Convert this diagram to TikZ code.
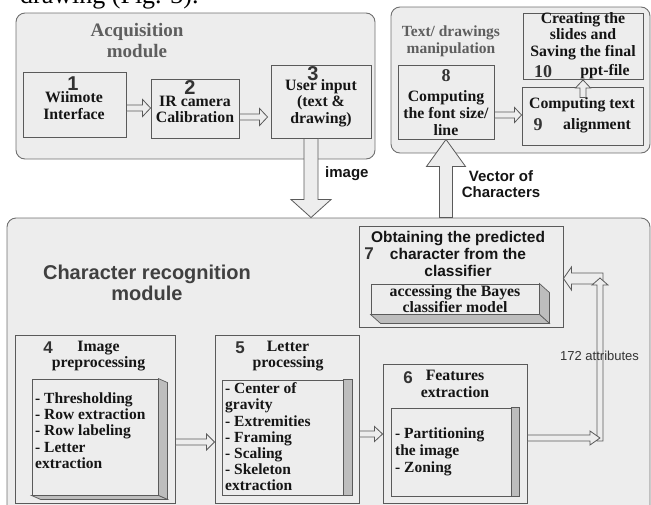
\documentclass[tikz,border=0pt]{standalone}
\usepackage{fontspec}
\setmainfont{Liberation Serif}
\setsansfont{Liberation Sans}
\usetikzlibrary{calc}
\definecolor{modfill}{HTML}{EDEDED}
\definecolor{modline}{HTML}{707070}
\definecolor{boxline}{HTML}{5A5A5A}
\definecolor{sidefill}{HTML}{BDBDBD}
\definecolor{titlegray}{HTML}{5E5E5E}
\definecolor{crgray}{HTML}{404040}
\definecolor{txt}{HTML}{151515}
\definecolor{numgray}{HTML}{333333}
\newcommand\fs[2]{\fontsize{#1}{#2}\selectfont}
% block arrows: #1 start, #2 tip, #3 shaft half width, #4 head half width, #5 head length
\newcommand\arrR[5]{\draw[barrow] let \p1=#1, \p2=#2 in (\x1,\y1+#3) -- (\x2-#5,\y1+#3) -- (\x2-#5,\y1+#4) -- (\x2,\y1) -- (\x2-#5,\y1-#4) -- (\x2-#5,\y1-#3) -- (\x1,\y1-#3) -- cycle;}
\newcommand\arrL[5]{\draw[barrow] let \p1=#1, \p2=#2 in (\x1,\y1+#3) -- (\x2+#5,\y1+#3) -- (\x2+#5,\y1+#4) -- (\x2,\y1) -- (\x2+#5,\y1-#4) -- (\x2+#5,\y1-#3) -- (\x1,\y1-#3) -- cycle;}
\newcommand\arrU[5]{\draw[barrow] let \p1=#1, \p2=#2 in (\x1+#3,\y1) -- (\x1+#3,\y2-#5) -- (\x1+#4,\y2-#5) -- (\x1,\y2) -- (\x1-#4,\y2-#5) -- (\x1-#3,\y2-#5) -- (\x1-#3,\y1) -- cycle;}
\newcommand\arrD[5]{\draw[barrow] let \p1=#1, \p2=#2 in (\x1+#3,\y1) -- (\x1+#3,\y2+#5) -- (\x1+#4,\y2+#5) -- (\x1,\y2) -- (\x1-#4,\y2+#5) -- (\x1-#3,\y2+#5) -- (\x1-#3,\y1) -- cycle;}
\tikzset{
  module/.style={draw=modline, fill=modfill, rounded corners=9pt, line width=0.9pt, inner sep=0pt},
  stepbox/.style={draw=boxline, fill=modfill, line width=0.9pt, inner sep=0pt},
  sidepanel/.style={draw=boxline, fill=sidefill, line width=0.7pt, line join=miter},
  barrow/.style={draw=boxline, fill=modfill, line width=0.8pt, line join=miter},
  modtitle/.style={font=\bfseries\fs{19}{21}, text=titlegray, inner sep=0pt, align=center},
  tdtitle/.style={font=\bfseries\fs{15.5}{17}, text=titlegray, inner sep=0pt, align=center},
  crtitle/.style={font=\sffamily\bfseries\fs{20}{21}, text=crgray, inner sep=0pt, align=center},
  stxt/.style={font=\bfseries\fs{15.8}{16.7}, text=txt, inner sep=0pt, align=center},
  ltxt/.style={font=\bfseries\fs{15.5}{16.2}, text=txt, inner sep=0pt, align=left, anchor=west},
  ssx/.style={font=\sffamily\bfseries\fs{15.5}{17}, text=txt, inner sep=0pt, align=center},
  bignum/.style={font=\sffamily\bfseries\fs{20}{20}, text=numgray, inner sep=0pt},
  snum/.style={font=\sffamily\bfseries\fs{17}{17}, text=numgray, inner sep=0pt},
  rnum/.style={font=\bfseries\fs{18}{18}, text=numgray, inner sep=0pt},
  lbl/.style={font=\sffamily\bfseries\fs{15}{15}, text=txt, inner sep=0pt, align=center},
}
\begin{document}
\begin{tikzpicture}[x=1pt,y=-1pt]
\useasboundingbox (0,0) rectangle (651,504);
% fragment of the surrounding text, cut off by the top edge
\node[anchor=base west, inner sep=0pt, font=\fs{26}{26}] (frag) at (20,3) {drawing (Fig. 3).};

% modules
\node[module, minimum width=359pt, minimum height=146pt] (acq) at (195.5,86) {};
\node[module, minimum width=259pt, minimum height=146pt] (tdm) at (520.5,80) {};
\node[module, minimum width=643pt, minimum height=312pt] (crm) at (328.5,374) {};

% acquisition boxes
\node[stepbox, minimum width=103pt, minimum height=65pt] (b1) at (74.5,104.5) {};
\node[stepbox, minimum width=88pt, minimum height=59pt] (b2) at (195,108.5) {};
\node[stepbox, minimum width=100pt, minimum height=73pt] (b3) at (321,101.5) {};
% manipulation boxes
\node[stepbox, minimum width=96pt, minimum height=74pt] (b8) at (446,102) {};
\node[stepbox, minimum width=120pt, minimum height=66pt] (b10) at (583,46) {};
\node[stepbox, minimum width=121pt, minimum height=58pt] (b9) at (582.5,116) {};
% recognition boxes
\node[stepbox, minimum width=204pt, minimum height=101pt] (b7) at (461,276.5) {};
\node[stepbox, minimum width=160pt, minimum height=168pt] (b4) at (95,419) {};
\node[stepbox, minimum width=144pt, minimum height=168pt] (b5) at (287,419) {};
\node[stepbox, minimum width=144pt, minimum height=139pt] (b6) at (455,433.5) {};

% inner 3D boxes
\node[stepbox, minimum width=168pt, minimum height=30pt] (i7) at (455,299) {};
\draw[sidepanel] (i7.north east) -- ++(10,9) -- ($(i7.south east)+(10,9)$) -- (i7.south east) -- cycle;
\draw[sidepanel] (i7.south west) -- (i7.south east) -- ($(i7.south east)+(10,9)$) -- ($(i7.south west)+(10,9)$) -- cycle;
\node[stepbox, minimum width=126pt, minimum height=116pt] (i4) at (95,437) {};
\draw[sidepanel] (i4.north east) -- ++(9,4) -- ($(i4.south east)+(9,4)$) -- (i4.south east) -- cycle;
\draw[sidepanel] (i4.south west) -- (i4.south east) -- ($(i4.south east)+(9,4)$) -- ($(i4.south west)+(9,4)$) -- cycle;
\node[stepbox, minimum width=121pt, minimum height=115pt] (i5) at (282.5,437.5) {};
\draw[sidepanel] (i5.north east) -- ++(9,0) -- ($(i5.south east)+(9,0)$) -- (i5.south east) -- cycle;
\node[stepbox, minimum width=120pt, minimum height=88pt] (i6) at (451,452) {};
\draw[sidepanel] (i6.north east) -- ++(8,0) -- ($(i6.south east)+(8,0)$) -- (i6.south east) -- cycle;

% titles
\node[modtitle] (tacq) at (137,41) {Acquisition\\module};
\node[tdtitle] (ttdm) at (451,41) {Text/ drawings\\manipulation};
\node[crtitle] (tcrm) at (147,283) {Character recognition\\module};

% acquisition texts
\node[stxt] (t1) at (74,105.5) {Wiimote\\Interface};
\node[bignum] (n1) at (73,84) {1};
\node[stxt] (t2) at (195,109.5) {IR camera\\Calibration};
\node[bignum] (n2) at (190,88) {2};
\node[stxt] (t3) at (321,103) {User input\\(text \&\\drawing)};
\node[bignum] (n3) at (313,74) {3};

% manipulation texts
\node[rnum] (n8) at (446,76) {8};
\node[stxt] (t8) at (446,113) {Computing\\the font size/\\line};
\node[stxt] (t10) at (583,36) {Creating the\\slides and\\Saving the final};
\node[rnum] (n10) at (543,72) {10};
\node[stxt] (t10b) at (605,72) {ppt-file};
\node[stxt] (t9) at (582,104.5) {Computing text};
\node[rnum] (n9) at (538,125) {9};
\node[stxt] (t9b) at (597,125.5) {alignment};

% recognition texts
\node[ssx] (t7) at (458,253.5) {Obtaining the predicted\\character from the\\classifier};
\node[snum] (n7) at (369,254) {7};
\node[stxt] (ti7) at (455,299) {accessing the Bayes\\classifier model};
\node[snum] (n4) at (48,348) {4};
\node[stxt] (t4) at (98.5,356) {Image\\preprocessing};
\node[ltxt] (l4) at (35,430.5) {- Thresholding\\- Row extraction\\- Row labeling\\- Letter\\extraction};
\node[snum] (n5) at (240,348) {5};
\node[stxt] (t5) at (288,356) {Letter\\processing};
\node[ltxt] (l5) at (225,437) {- Center of\\gravity\\- Extremities\\- Framing\\- Scaling\\- Skeleton\\extraction};
\node[snum] (n6) at (408,378) {6};
\node[stxt] (t6) at (455,384) {Features\\extraction};
\node[ltxt, font=\bfseries\fs{15.5}{17}] (l6) at (395,451.5) {- Partitioning\\the image\\- Zoning};

% connector coordinates
\coordinate (c1) at (600,441);
\coordinate (c2) at (600,278);
\coordinate (c3) at (603,278.5);

% arrows
\arrR{($(b1.east)+(0,3.5)$)}{(b2.west)}{3pt}{8.5pt}{8pt}
\arrR{($(b2.east)+(0,8.5)$)}{($(b3.west)+(-3,0)$)}{3pt}{8.5pt}{8pt}
\arrD{($(b3.south)+(-10,0)$)}{(crm.north)}{7pt}{20pt}{18pt}
\arrU{(b8.south |- crm.north)}{(b8.south)}{6.5pt}{19.5pt}{27pt}
\arrR{($(b8.east)+(0,13)$)}{(b9.west)}{3pt}{7.5pt}{7pt}
\arrU{($(b9.north)+(0.5,11)$)}{($(b10.south)+(0,0.5)$)}{3pt}{7.5pt}{8pt}
\arrR{($(b4.east)+(0,23)$)}{(b5.west)}{3pt}{8pt}{8pt}
\arrR{($(b5.east)+(0,15)$)}{(b6.west)}{3pt}{7.5pt}{8pt}
\arrL{(c3)}{(b7.east)}{5.5pt}{11.5pt}{8pt}
\arrU{(c1)}{(c2)}{3pt}{8pt}{7pt}
\arrR{($(b6.east)+(0,4.5)$)}{(c1)}{3pt}{7pt}{10pt}

% labels
\node[lbl, anchor=west] (limg) at (325,174) {image};
\node[lbl, font=\sffamily\bfseries\fs{15}{15.5}] (lvec) at (501,184) {Vector of\\Characters};
\node[font=\sffamily\fs{13}{13}, text=numgray, inner sep=0pt, anchor=west] (lattr) at (560,356) {172 attributes};
\end{tikzpicture}
\end{document}
